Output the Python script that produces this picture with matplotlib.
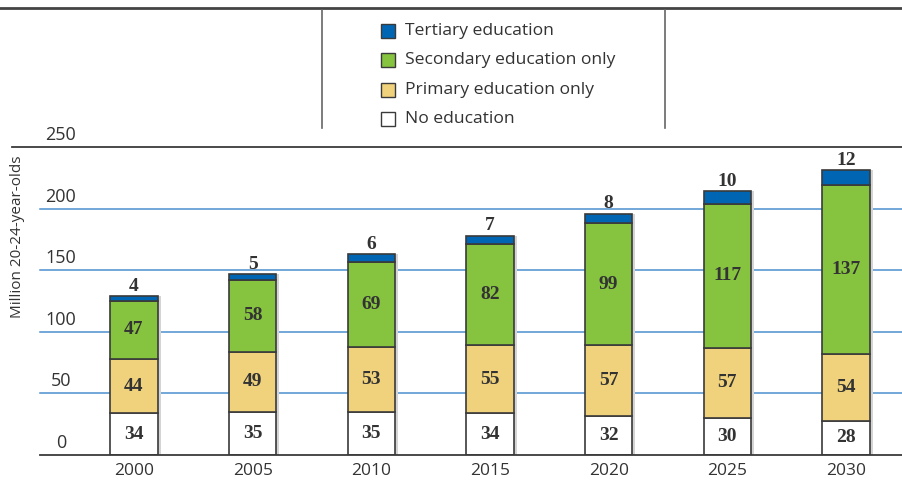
import matplotlib.pyplot as plt
from matplotlib.patches import Rectangle
from matplotlib.lines import Line2D

years = ["2000", "2005", "2010", "2015", "2020", "2025", "2030"]
no_edu = [34, 35, 35, 34, 32, 30, 28]
primary = [44, 49, 53, 55, 57, 57, 54]
secondary = [47, 58, 69, 82, 99, 117, 137]
tertiary = [4, 5, 6, 7, 8, 10, 12]

c_none = "#ffffff"
c_prim = "#f0d27c"
c_sec = "#86c440"
c_ter = "#0066b3"
edge = "#3a3a3a"
grid_c = "#4a90d0"
txt_c = "#333333"

sans = ["Open Sans", "DejaVu Sans"]
serif = ["Liberation Serif", "DejaVu Serif"]

W, H = 903, 484
fig = plt.figure(figsize=(W / 100, H / 100), dpi=100)
ax = fig.add_axes([40 / W, 29 / H, 863 / W, 308 / H])

x = list(range(len(years)))
bw = 0.40
bottoms2 = [a + b for a, b in zip(no_edu, primary)]
bottoms3 = [a + b for a, b in zip(bottoms2, secondary)]
totals = [a + b for a, b in zip(bottoms3, tertiary)]

# faint shadow to the right of each bar
ax.bar([i + 0.025 for i in x], totals, bw, color="#d4d4d4", zorder=2)

kw = dict(width=bw, edgecolor=edge, linewidth=1.2, zorder=3)
ax.bar(x, no_edu, color=c_none, **kw)
ax.bar(x, primary, bottom=no_edu, color=c_prim, **kw)
ax.bar(x, secondary, bottom=bottoms2, color=c_sec, **kw)
ax.bar(x, tertiary, bottom=bottoms3, color=c_ter, **kw)

lab = dict(ha="center", va="center", fontsize=14, fontweight="bold",
           color=txt_c, family=serif, zorder=5)
for i in x:
    ax.text(i, no_edu[i] / 2, str(no_edu[i]), **lab)
    ax.text(i, no_edu[i] + primary[i] / 2, str(primary[i]), **lab)
    ax.text(i, bottoms2[i] + secondary[i] / 2, str(secondary[i]), **lab)
    ax.text(i, totals[i] + 8, str(tertiary[i]), **lab)

ax.set_xlim(-0.792, 6.48)
ax.set_ylim(0, 250)
for s in ax.spines.values():
    s.set_visible(False)
ax.set_yticks([])
ax.set_xticks(x)
ax.set_xticklabels(years, fontsize=12.5, color=txt_c, family=sans)
ax.tick_params(axis="x", length=0, pad=6)

yt = ax.get_yaxis_transform()
for v in [50, 100, 150, 200]:
    ax.plot([0, 1], [v, v], color=grid_c, lw=1.1, transform=yt, zorder=1, clip_on=False)
ax.plot([0, 1], [0, 0], color=edge, lw=1.3, transform=yt, zorder=4, clip_on=False)
ax.plot([-28 / 863, 1], [250, 250], color=edge, lw=1.3, transform=yt, zorder=4, clip_on=False)
for v in [0, 50, 100, 150, 200, 250]:
    ax.text(21 / 863, v + 2.5, str(v), transform=yt, ha="center", va="bottom",
            fontsize=13, color=txt_c, family=sans)

fig.text(18 / W, 1 - 237 / H, "Million 20-24-year-olds", rotation=90, ha="center",
         va="center", fontsize=11, color=txt_c, family=sans)

# top frame lines
fig.add_artist(Line2D([0, 1], [1 - 8 / H, 1 - 8 / H], color="#444444", lw=2))
for px in [322, 665]:
    fig.add_artist(Line2D([px / W, px / W], [1 - 10 / H, 1 - 128 / H], color="#666666", lw=1.2))

# legend
items = [("Tertiary education", c_ter), ("Secondary education only", c_sec),
         ("Primary education only", c_prim), ("No education", c_none)]
for k, (name, col) in enumerate(items):
    yc = 31 + k * 29.3
    fig.add_artist(Rectangle((381 / W, 1 - (yc + 7) / H), 14 / W, 14 / H,
                             transform=fig.transFigure, facecolor=col,
                             edgecolor=edge, lw=1))
    fig.text(405 / W, 1 - yc / H, name, ha="left", va="center", fontsize=12.6,
             color=txt_c, family=sans)

fig.savefig("out.png", dpi=100)
